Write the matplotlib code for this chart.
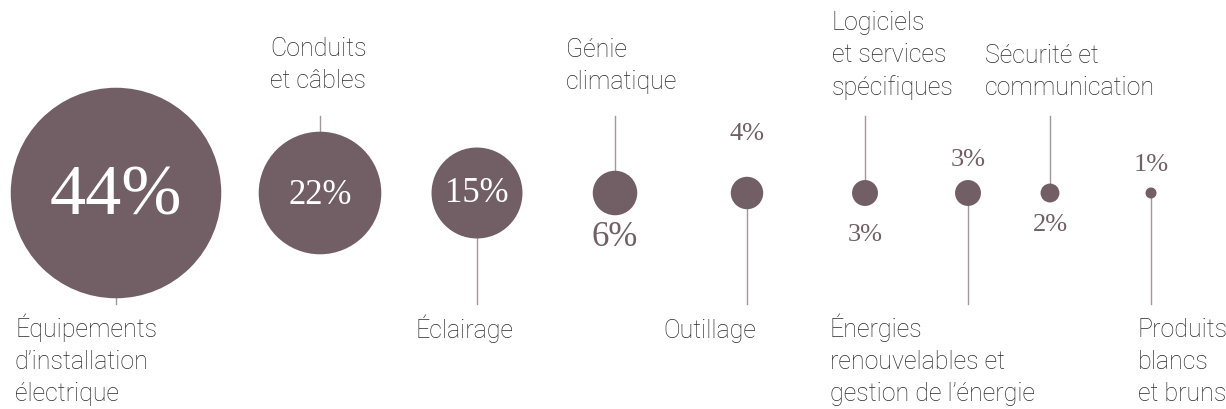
import numpy as np
from matplotlib import pyplot as plt
from matplotlib.patches import Circle


# Data
categories = [
    "Équipements\nd’installation\nélectrique",
    "Conduits\net câbles",
    "Éclairage",
    "Génie\nclimatique",
    "Outillage",
    "Logiciels\net services\nspécifiques",
    "Énergies\nrenouvelables et\ngestion de l’énergie",
    "Sécurité et\ncommunication",
    "Produits\nblancs\net bruns",
]
shares = [44, 22, 15, 6, 4, 3, 3, 2, 1]
share_labels = ["44%", "22%", "15%", "6%", "4%", "3%", "3%", "2%", "1%"]


# Layout (pixel space); name_y is the baseline of the last line
x_pos = [116, 320, 477, 615, 747, 865, 968, 1050, 1151]
y_mid = 193
name_x = [15, 270, 415, 566, 663, 832, 830, 985, 1138]
name_y = [401, 88, 338, 89, 338, 95, 401, 95, 401]
pct_y = [197, 195, 194, 238, 134, 235, 160, 225, 165]
pct_size = [52, 25, 25, 25, 19, 19, 19, 19, 19]

circle_color = "#715f65"
stem_color = "#a3979b"
text_color = "#2a2a2a"

fig = plt.figure(figsize=(12.26, 4.09), dpi=100)
ax = fig.add_axes([0, 0, 1, 1])
ax.set_xlim(0, 1226)
ax.set_ylim(409, 0)
ax.set_aspect("equal")
ax.axis("off")

for i, v in enumerate(shares):
    r = 5.5 * v ** 0.78
    if i % 2 == 0:
        ax.plot([x_pos[i], x_pos[i]], [y_mid, 304], color=stem_color, lw=1.0, zorder=1)
    else:
        ax.plot([x_pos[i], x_pos[i]], [116, y_mid], color=stem_color, lw=1.0, zorder=1)
    ax.add_patch(Circle((x_pos[i], y_mid), r, color=circle_color, lw=0, zorder=2))

    inside = i < 3
    ax.text(x_pos[i], pct_y[i], share_labels[i], ha="center", va="center",
            fontsize=pct_size[i], family=["Liberation Serif", "DejaVu Serif"],
            color="white" if inside else circle_color, zorder=3)

    ax.text(name_x[i], name_y[i], categories[i], ha="left", va="baseline",
            fontsize=18, family=["Roboto", "DejaVu Sans"], fontweight="light",
            color=text_color, linespacing=1.42)

fig.savefig("out.png", dpi=100)
